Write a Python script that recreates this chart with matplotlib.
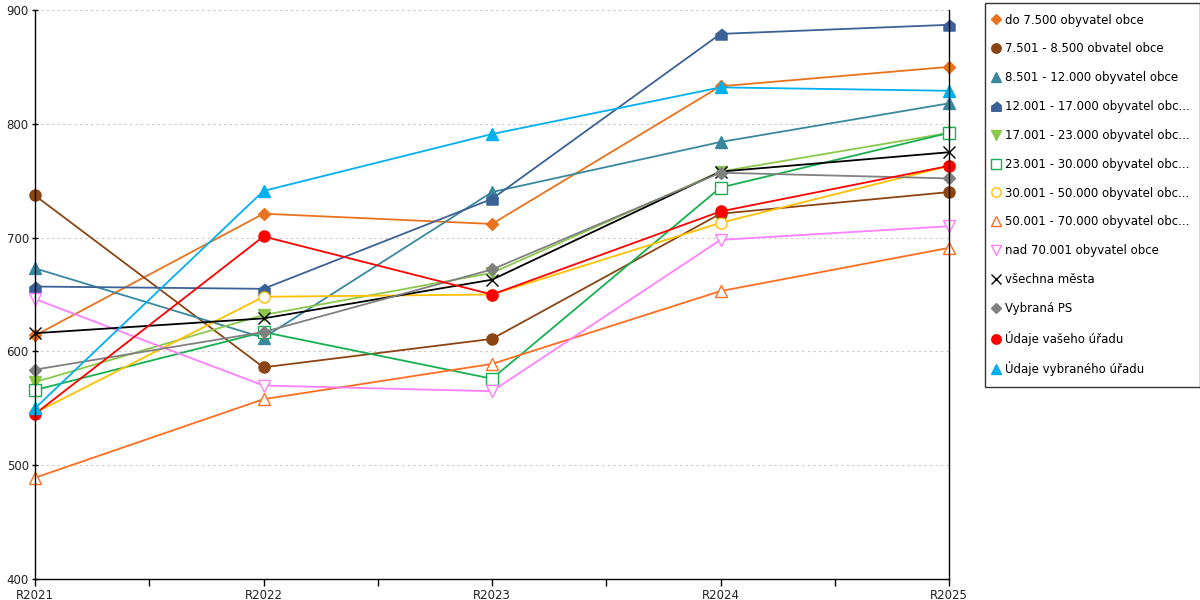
import matplotlib
matplotlib.use('Agg')
import matplotlib.pyplot as plt
from matplotlib.ticker import MultipleLocator

plt.rcParams['font.family'] = ['DejaVu Sans']

years = ['R2021', 'R2022', 'R2023', 'R2024', 'R2025']

labels = ['do 7.500 obyvatel obce',
          '7.501 - 8.500 obvatel obce',
          '8.501 - 12.000 obyvatel obce',
          '12.001 - 17.000 obyvatel obc...',
          '17.001 - 23.000 obyvatel obc...',
          '23.001 - 30.000 obyvatel obc...',
          '30.001 - 50.000 obyvatel obc...',
          '50.001 - 70.000 obyvatel obc...',
          'nad 70.001 obyvatel obce',
          'všechna města',
          'Vybraná PS',
          'Údaje vašeho úřadu',
          'Údaje vybraného úřadu']

do_7500 = [614, 721, 712, 833, 850]
od_7501 = [737, 586, 611, 721, 740]
od_8501 = [673, 612, 740, 784, 818]
od_12001 = [657, 655, 734, 879, 887]
od_17001 = [573, 632, 669, 758, 792]
od_23001 = [566, 617, 576, 744, 792]
od_30001 = [546, 648, 650, 713, 763]
od_50001 = [489, 558, 589, 653, 691]
nad_70001 = [646, 570, 565, 698, 710]
vsechna_mesta = [616, 629, 663, 758, 775]
vybrana_ps = [584, 617, 672, 757, 752]
vas_urad = [545, 701, 650, 723, 763]
vybrany_urad = [550, 741, 791, 832, 829]

series = [do_7500, od_7501, od_8501, od_12001, od_17001, od_23001, od_30001,
          od_50001, nad_70001, vsechna_mesta, vybrana_ps, vas_urad, vybrany_urad]

colors = ['#E8731C', '#8B4513', '#3A889E', '#3B6196', '#8CC84B', '#17B050', '#FFC000',
          '#FF6E1F', '#FF7FFF', '#000000', '#808080', '#FF0000', '#00B0F0']

house = [(0, 1), (1, 0.2), (1, -1), (-1, -1), (-1, 0.2)]
markers = ['D', 'o', '^', house, 'v', 's', 'o', '^', 'v', 'x', 'D', 'o', '^']
filled = [True, True, True, True, True, False, False, False, False, True, True, True, True]
sizes = [6, 8, 8, 8, 8, 8, 8, 8, 8, 9, 6, 8, 8]

fig = plt.figure(figsize=(12, 6), dpi=100)
ax = fig.add_axes([35/1200, 21/600, 914/1200, 569/600])

x = list(range(len(years)))
for vals, lab, c, m, f, s in zip(series, labels, colors, markers, filled, sizes):
    ax.plot(x, vals, color=c, lw=1.3, marker=m, markersize=s,
            markerfacecolor=c if f else 'white', markeredgecolor=c,
            markeredgewidth=1.0, label=lab, clip_on=False)

ax.set_xlim(0, 4)
ax.set_ylim(400, 900)
ax.set_xticks(x)
ax.set_xticklabels(years)
ax.xaxis.set_minor_locator(MultipleLocator(0.5))
ax.yaxis.set_major_locator(MultipleLocator(100))
ax.tick_params(axis='x', which='both', direction='out', length=5, width=1, labelsize=8.5, pad=2)
ax.tick_params(axis='y', direction='inout', length=5, width=1, labelsize=8.5, pad=2)
for t in ax.get_yticklabels() + ax.get_xticklabels():
    t.set_color('#222222')

for v in range(500, 901, 100):
    ax.axhline(v, color='#C8C8C8', lw=0.8, ls=(0, (2, 3)), zorder=0)

ax.spines['top'].set_visible(False)
for sp in ['left', 'bottom', 'right']:
    ax.spines[sp].set_color('black')
    ax.spines[sp].set_linewidth(1)

leg = fig.legend(loc='upper left', bbox_to_anchor=(985/1200, 1 - 3/600), frameon=True,
                 fancybox=False, edgecolor='black', fontsize=8.5, handlelength=0,
                 handletextpad=0.8, labelspacing=1.34, borderpad=0.9, borderaxespad=0,
                 markerscale=0.85)
leg.get_frame().set_linewidth(1)
for h in leg.legend_handles:
    h.set_linestyle('None')

fig.savefig('out.png', dpi=100)
